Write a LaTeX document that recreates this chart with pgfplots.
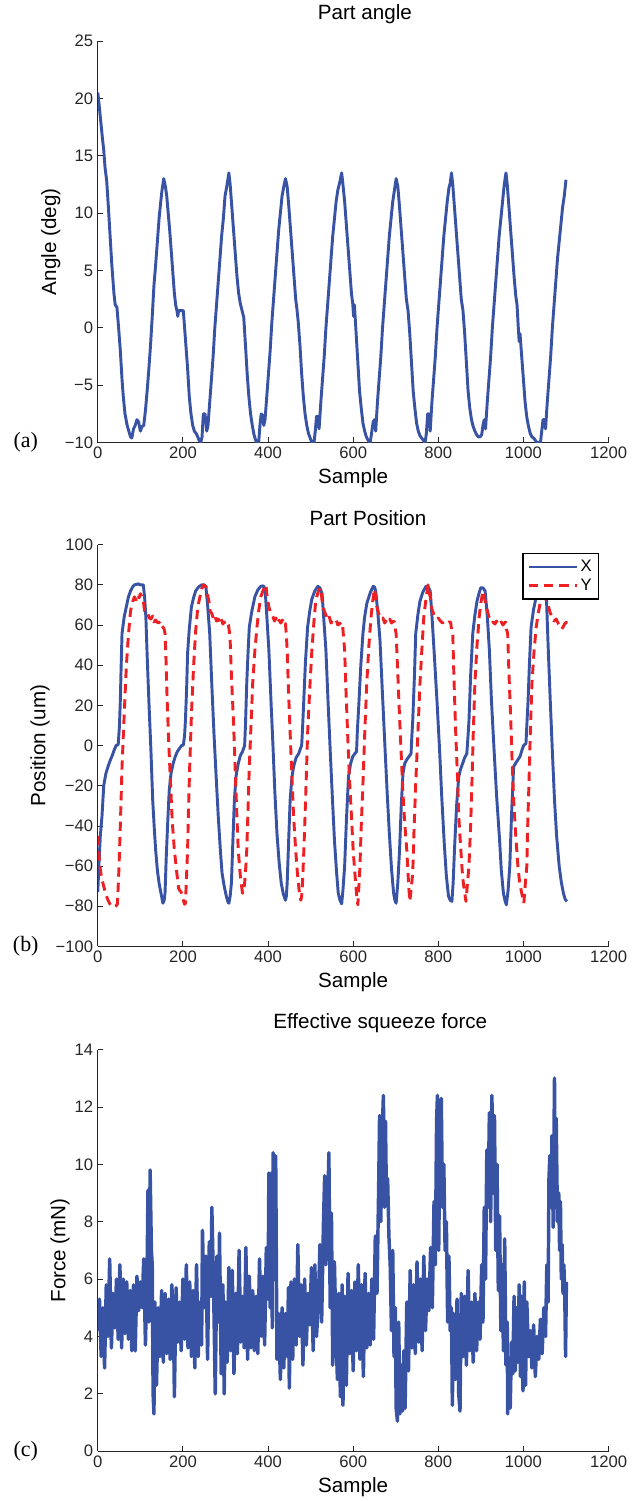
\documentclass[border=0pt]{standalone}
\usepackage{pgfplots}
\pgfplotsset{compat=1.18}
\usepackage{fontspec}
\setmainfont{Liberation Sans}
\newfontfamily\tnr{Liberation Serif}
\definecolor{mblue}{RGB}{56,83,164}
\definecolor{mred}{RGB}{237,32,36}
\pgfplotsset{
  panel/.style={
    width=384pt, height=302pt, scale only axis,
    axis lines=left, axis line style={-, line width=0.8pt, black!85},
    tick align=inside, major tick length=4pt, tick style={black!85, line width=0.6pt},
    xmin=0, xmax=1200, xtick={0,200,...,1200},
    xticklabels={0,200,400,600,800,1000,1200},
    tick label style={font=\fontsize{12.5}{14}\selectfont, black!85},
    label style={font=\fontsize{15.5}{17}\selectfont},
    title style={font=\fontsize{15.5}{17}\selectfont, anchor=center},
    xlabel={Sample},
    xlabel style={at={(axis description cs:0.5,-0.089)}, anchor=center},
    every axis plot/.append style={line join=round},
  },
}
\begin{document}
\begin{tikzpicture}
\path (-73.5pt,0pt) rectangle (405.75pt,-1125.75pt);

% (a) part angle
\begin{axis}[panel, at={(0pt,-331.5pt)}, anchor=south west,
  ymin=-10, ymax=25, ytick={-10,-5,0,5,10,15,20,25},
  yticklabels={−10,−5,0,5,10,15,20,25},
  ylabel={Angle (deg)},
  ylabel style={at={(axis description cs:-0.092,0.5)}, anchor=center},
  title={Part angle},
  title style={at={(axis description cs:0.523,1.047)}},
  extra description/.code={\node[font=\tnr\fontsize{16.5}{18}\selectfont] at (axis description cs:-0.141,0) {(a)};},
]
\addplot[mblue, line width=2.2pt] coordinates {
(0,20.5)(3,19.5)(7,18)(11,16.5)(14,15.5)(17,14)(21,12.8)(25,10.5)(29,8)(33,5.5)(38,3)(41,2)(45,1.8)(49,0)(53,-2)(57,-4.5)(60,-6)(64,-7.5)(69,-8.5)(73,-9)(77,-9.5)(80,-9.6)(84,-8.8)(88,-8.5)(92,-8)(96,-8.2)(100,-9)(104,-8.6)(108,-8.5)
(112,-7.2)(116,-5.5)(120,-3.6)(124,-1.5)(128,1)(132,3.7)(136,5.5)(140,7.5)(144,9.5)(148,11)(151,12)(155,13)
(159,12.3)(162,11.5)(165,10.2)(169,8.5)(173,6.5)(177,4.5)(180,3)(183,2)(186,1.5)(188,1)(190,1.5)(196,1.5)(201,1.5)(204,0)(207,-1.5)(211,-3.5)(215,-6)(219,-7.5)(223,-8.5)(227,-9)(231,-9.2)(235,-9.5)(238,-9.8)(242,-10)(245,-9.5)(248,-7.5)(252,-7.5)(256,-9)(259,-8.5)
(263,-6.5)(267,-4.5)(271,-2.5)(275,0)(279,2)(283,4)(287,6)(291,8)(295,9.5)(299,11.5)(303,12.3)(306,13)(308,13.5)
(311,12.5)(315,10.5)(319,8.5)(323,6.5)(327,4.5)(331,3)(335,2.1)(339,1.5)(343,0.9)(347,-1.5)(351,-4)(355,-6)(359,-7.5)(363,-8.5)(367,-9.3)(371,-9.8)(375,-10)(378,-10)(381,-8.5)(384,-7.5)(387,-7.6)(390,-8.5)(393,-8)
(397,-6)(401,-4)(405,-2)(409,0.5)(413,2.5)(417,4.5)(421,6.5)(425,8.5)(429,10)(433,11.5)(437,12.3)(441,13)
(445,12.3)(449,10.5)(453,8.5)(457,6.5)(461,4.5)(465,2.5)(468,1.6)(471,0.5)(475,-1.5)(479,-4)(483,-6)(487,-7.5)(491,-8.5)(495,-9.2)(499,-9.6)(503,-10)(508,-10)(511,-9)(514,-7.7)(517,-7.7)(520,-8.8)
(524,-6.5)(528,-4.5)(532,-2.5)(536,0)(540,2)(544,4)(548,6)(552,8)(556,9.5)(560,11)(564,12)(568,12.6)(573,13.5)
(576,12.5)(580,11)(584,9)(588,7)(592,5)(596,3)(599,2.1)(601,1)(603,2)(607,-0.5)(611,-3)(615,-5.5)(619,-7)(623,-8.3)(627,-9)(631,-9.5)(635,-9.8)(640,-10)(644,-9)(647,-8.2)(650,-8)(653,-9)
(657,-6.5)(661,-4.5)(665,-2.5)(669,0)(673,2)(677,4)(681,6)(685,8)(689,9.5)(693,11)(697,12)(701,13)
(705,12.3)(709,10.5)(713,8.5)(717,6.5)(721,4.5)(725,2.5)(729,1.5)(733,-0.5)(737,-3)(741,-5.5)(745,-7)(749,-8.3)(753,-9)(757,-9.4)(761,-9.6)(765,-9.8)(769,-10)(772,-9.2)(775,-7.5)(778,-7.5)(781,-9)
(785,-6.5)(789,-4.5)(793,-2.5)(797,0)(801,2)(805,4)(809,6)(813,8)(817,9.5)(821,11)(825,12.2)(828,12.6)(831,13.5)
(834,12.5)(838,10.5)(842,8.5)(846,6.5)(850,4.5)(854,2.5)(858,1.5)(862,-0.5)(866,-3)(870,-5.5)(874,-7)(878,-8)(882,-8.6)(886,-9)(890,-9.3)(894,-9.5)(898,-9.5)(902,-9.3)(905,-8.5)(908,-8)(911,-8.8)
(915,-6.5)(919,-4.5)(923,-2.5)(927,0)(931,2)(935,4)(939,6)(943,8)(947,9.5)(951,11)(955,12.5)(959,13.5)
(962,12.5)(966,10.5)(970,8.5)(974,6.5)(978,4.5)(982,2.8)(985,2)(988,0)(990,-1.2)(992,-0.5)(996,-2.5)(1000,-4.5)(1004,-6.5)(1008,-7.8)(1012,-8.6)(1016,-9.2)(1020,-9.5)(1024,-9.6)(1028,-9.8)(1032,-10)(1036,-10)(1040,-10)(1043,-9)(1046,-8)(1049,-8)(1052,-8.8)
(1056,-6.5)(1060,-4.5)(1064,-2.5)(1068,0)(1072,2)(1076,4)(1080,6)(1084,7.5)(1088,9)(1092,10.5)(1096,11.5)(1100,12.9)
};
\end{axis}

% (b) part position
\begin{axis}[panel, at={(0pt,-710.25pt)}, anchor=south west,
  ymin=-100, ymax=100, ytick={-100,-80,...,100},
  yticklabels={−100,−80,−60,−40,−20,0,20,40,60,80,100},
  ylabel={Position (um)},
  ylabel style={at={(axis description cs:-0.113,0.5)}, anchor=center},
  title={Part Position},
  title style={at={(axis description cs:0.529,1.047)}},
  extra description/.code={\node[font=\tnr\fontsize{16.5}{18}\selectfont] at (axis description cs:-0.141,0) {(b)};},
  legend image code/.code={\draw (0pt,0pt) -- (36pt,0pt);},
  legend style={at={(axis description cs:0.982,0.98)}, anchor=north east,
    draw=black, line width=1.3pt, font=\fontsize{12.5}{14}\selectfont,
    inner xsep=3pt, inner ysep=3pt, row sep=0pt},
  legend cell align=left,
]
\addplot[mblue, line width=2.2pt] coordinates {
(0,-73)(3,-58)(6,-45)(10,-35)(14,-20)(19,-14)(24,-10.5)(29,-7.5)(34,-5)(39,-2)(43,0)(48,0.5)(51,10)(53,22.6)(55,40)(57,55.8)(62,64)(67,69)(72,74)(77,77)(82,79)(86,80)(95,80.5)(100,80)(107,80)(110,74)(113,64)(116,45)(120,22.6)(125,-3)(129,-27)(133,-42)(136,-52)(140,-62)(144,-68.5)(149,-74)(153,-78.5)(156,-77)(158,-73.5)(161,-55)(165,-35)(168,-22)(172,-14)(177,-9)(182,-5.5)(187,-3)(192,-1.4)(197,0)(201,0.2)(204,5)(206,12.7)(209,30)(211,46)(215,58)(220,69)(225,73.5)(230,77)(237,79)(244,80)(250,80)(254,79)(258,70)(263,55.8)(268,30)(273,6)(278,-15)(283,-35)(288,-52)(292,-63.5)(297,-70)(302,-75)(306,-78)(308,-78.5)(311,-75)(314,-68.5)(317,-50)(321,-27)(325,-15)(330,-9)(335,-5)(340,-3)(345,0)(347,10)(350,31)(353,46)(356,59)(362,67)(369,74)(376,77.5)(383,79.3)(389,79.5)(393,78)(397,65)(402,47.5)(407,22)(412,-2)(416,-23)(421,-43.7)(426,-58)(431,-68.5)(436,-74)(441,-77)(443,-75)(445,-68.5)(448,-50)(452,-27)(456,-16)(460,-10.5)(466,-6)(472,-4)(477,-1)(479,0)(481,8)(484,22.6)(488,42)(493,59)(498,67)(503,73)(510,77)(517,79.3)(522,78.5)(527,75.6)(531,63)(536,47.5)(541,22)(546,-2)(551,-25)(556,-47)(561,-63)(565,-73.5)(569,-77)(573,-78.8)(576,-72)(580,-60)(584,-38)(589,-15.5)(594,-9)(599,-5.5)(604,-4)(608,-3)(610,8)(613,19)(618,40)(623,55.8)(627,64)(632,70.7)(640,76)(647,79.3)(650,79)(653,77)(658,66)(663,52.5)(669,25)(675,-2)(680,-24)(685,-43.7)(690,-61)(695,-73.5)(698,-77)(701,-78.5)(705,-68)(709,-52)(713,-30)(717,-14)(721,-9)(726,-7)(731,-5.5)(736,-4)(738,5)(740,12.7)(744,35)(747,55.8)(752,65)(757,72)(764,76.5)(771,79.3)(776,79)(781,77)(785,65)(790,47.5)(797,22)(803,-2)(808,-25)(814,-48.6)(819,-65)(824,-75)(828,-77)(832,-77.6)(835,-68)(838,-52)(843,-30)(848,-15.5)(852,-12)(857,-9)(862,-6)(867,-4)(869,2)(872,12)(876,35)(881,55.8)(886,65)(891,72)(896,76)(900,78.6)(905,78.5)(910,77)(915,65)(920,47.5)(925,22)(931,-2)(937,-25)(944,-47)(948,-62)(953,-73.5)(957,-77.5)(960,-79.3)(964,-72)(968,-60)(972,-35)(977,-10.5)(984,-8)(992,-5.5)(997,-2)(1001,0.2)(1006,1)(1008,10)(1011,22.6)(1014,40)(1018,59)(1024,68)(1030,74)(1037,77)(1044,78.6)(1049,77.5)(1054,74)(1058,50)(1063,22.6)(1068,-3)(1073,-27)(1078,-45)(1084,-60)(1089,-68)(1094,-73.5)(1098,-76.5)(1102,-77.6)
};
\addplot[mred, line width=2.2pt, dash pattern=on 7pt off 4.5pt] coordinates {
(0,-45)(3,-55)(5,-60)(9,-66)(14,-70)(19,-74)(24,-77)(29,-79)(33,-80)(38,-80.5)(42,-80)(46,-79)(48,-70)(50,-60)(53,-40)(57,-10.5)(62,15)(67,39)(72,55)(77,67)(81,71)(86,74)(90,72.5)(94,75)(97,73.5)(100,75.6)(104,74)(107,72)(110,67)(113,65.7)(117,66)(121,63.5)(125,63)(129,64.5)(132,61.5)(136,62.5)(139,61.5)(143,61)(147,62)(150,60)(153,59)(156,58)(158,55.8)(160,45)(163,22.6)(167,0)(171,-19)(175,-38)(180,-52)(186,-64)(190,-71)(192,-72)(196,-73)(201,-77)(204,-79)(206,-78.5)(208,-68)(211,-52)(213,-33)(216,-10.5)(220,15)(225,39)(230,57)(235,69)(240,74)(244,78)(249,80)(254,79.3)(257,76)(261,72)(264,67)(268,65.7)(272,63)(275,64.5)(279,62)(283,63)(287,61)(290,63)(294,60.5)(297,61.5)(301,60)(304,61)(307,60)(309,57)(311,52.5)(314,35)(318,16)(321,0)(324,-19)(327,-36)(330,-52)(335,-65)(340,-73.5)(343,-72)(345,-68.5)(348,-60)(350,-52)(353,-32)(356,-10.5)(360,10)(364,31)(369,47)(374,59)(378,67)(383,74)(388,77)(392,79)(395,80)(398,74)(402,69)(406,66)(409,65)(412,64)(415,62)(419,63.5)(422,61)(426,62.4)(430,61)(434,62.5)(437,60)(441,60.7)(443,55)(445,47.5)(448,28)(452,6)(456,-15)(460,-35)(465,-52)(469,-63.5)(473,-72)(477,-77)(479,-75)(481,-68.5)(484,-53)(487,-35)(490,-15)(493,6)(498,28)(503,47.5)(508,62)(512,72)(517,76)(522,78.6)(525,76)(527,72)(532,67)(536,65)(540,62.5)(544,64)(548,61)(551,61.5)(556,61)(560,62.5)(564,60)(568,61)(572,60)(575,60.7)(577,55)(580,47.5)(583,28)(587,6)(591,-15)(596,-35)(600,-52)(604,-63.5)(608,-74)(611,-79.3)(613,-72)(616,-60)(619,-40)(623,-19)(627,5)(632,31)(637,50)(642,64)(646,72)(650,78)(653,74)(656,69)(661,65)(666,63)(670,63.5)(674,61)(678,62.5)(682,61.5)(686,63)(690,61)(694,62)(697,61.5)(699,58)(701,55.8)(705,35)(709,14.3)(713,-5)(717,-24)(721,-38)(726,-52)(730,-68)(733,-77.6)(736,-72)(740,-63.5)(743,-42)(747,-19)(752,6)(757,31)(762,50)(766,64)(771,73)(776,80)(778,77)(781,74)(785,68)(790,65)(795,63)(800,63.5)(805,62)(810,61)(815,62)(820,61)(825,61.5)(829,61.5)(831,58)(834,55.8)(837,32)(841,6)(845,-15)(848,-35)(853,-52)(857,-65)(861,-72)(865,-77.6)(868,-70)(872,-60)(876,-40)(879,-19)(882,5)(886,31)(891,50)(896,64)(900,71)(905,77)(910,72)(915,67.4)(919,64)(922,63)(926,61)(929,61.5)(933,60.5)(937,62)(941,60)(944,60.7)(948,61.5)(952,60)(955,61)(958,61.5)(960,58)(963,55.8)(966,36)(970,14.3)(973,-5)(977,-27)(982,-45)(987,-60)(991,-68)(996,-73.5)(1001,-78.5)(1004,-70)(1008,-60)(1010,-40)(1013,-19)(1016,5)(1020,31)(1025,47)(1030,59)(1035,66)(1039,70.7)(1044,73)(1049,74.8)(1054,72)(1059,69)(1063,66)(1068,64)(1072,62)(1077,63)(1082,60.7)(1086,59.5)(1090,58)(1093,59)(1097,60.7)(1100,61)(1102,63)
};
\legend{X,Y}
\end{axis}

% (c) effective squeeze force
\begin{axis}[panel, at={(0pt,-1089.75pt)}, anchor=south west,
  ymin=0, ymax=14, ytick={0,2,...,14},
  yticklabels={0,2,4,6,8,10,12,14},
  ylabel={Force (mN)},
  ylabel style={at={(axis description cs:-0.074,0.5)}, anchor=center},
  title={Effective squeeze force},
  title style={at={(axis description cs:0.553,1.046)}},
  extra description/.code={\node[font=\tnr\fontsize{16.5}{18}\selectfont] at (axis description cs:-0.141,0) {(c)};},
]
\addplot[mblue, line width=2.6pt] coordinates {
(0,4.2)(4,5.3)(8,3.3)(12,5.0)(16,2.9)(20,5.8)(24,4.0)(28,6.7)(32,3.6)(36,5.5)(40,4.3)(44,6.0)(48,3.9)(52,6.5)(56,3.6)(60,6.0)(64,4.1)(68,5.9)(72,3.9)(76,5.6)(80,3.5)(84,5.8)(88,3.5)(92,6.1)(96,4.9)(100,5.9)(104,5.0)(108,6.7)(112,3.7)(116,6.5)(118,9.1)(120,4.5)(123,9.8)(126,7.0)(128,6.5)(130,2.0)(132,1.3)(134,5.2)(138,2.3)(142,5.0)(146,3.3)(150,5.6)(154,3.1)(158,5.5)(162,3.4)(166,5.3)(170,3.2)(174,5.8)(178,4.4)(180,1.9)(184,5.7)(188,3.8)(192,5.2)(196,3.5)(200,6.0)(204,3.9)(208,6.5)(212,3.6)(216,5.9)(220,3.3)(224,5.6)(228,2.9)(232,6.5)(236,3.3)(240,5.2)(244,3.7)(246,7.7)(250,5.0)(254,6.8)(258,3.2)(262,7.3)(266,5.4)(268,8.5)(272,5.8)(276,2.0)(280,6.8)(284,4.5)(286,7.6)(290,2.7)(294,5.8)(297,2.0)(300,5.2)(304,3.1)(308,6.4)(312,3.5)(316,6.3)(320,2.7)(324,5.5)(328,3.4)(332,7.0)(336,3.8)(340,5.4)(344,3.6)(348,7.1)(352,3.2)(356,6.1)(360,3.6)(364,5.6)(368,3.5)(372,5.4)(376,3.4)(380,6.7)(384,4.0)(388,6.1)(392,3.7)(396,7.1)(400,5.3)(402,9.7)(405,5.0)(408,9.7)(410,4.3)(412,10.4)(415,6.0)(418,10.3)(421,3.2)(425,4.8)(429,2.5)(433,5.0)(437,2.9)(441,4.8)(445,3.3)(448,5.7)(450,2.2)(454,5.9)(458,3.2)(462,6.0)(466,3.7)(470,7.2)(474,4.0)(478,5.8)(482,3.0)(486,6.0)(490,3.7)(494,5.5)(498,4.4)(502,6.4)(506,3.5)(510,6.5)(514,4.0)(518,5.1)(522,7.2)(526,4.5)(530,7.8)(533,9.6)(536,6.5)(540,8.5)(543,10.4)(546,5.0)(549,8.3)(552,3.0)(556,6.6)(560,3.9)(563,2.5)(566,5.5)(570,1.9)(574,5.8)(576,1.6)(580,5.4)(584,2.3)(588,6.2)(592,3.4)(596,5.6)(600,2.8)(604,5.9)(608,3.5)(612,6.5)(616,3.2)(620,5.8)(624,2.6)(628,6.2)(632,3.6)(636,5.5)(640,3.7)(644,6.0)(648,3.9)(652,7.5)(656,5.5)(660,9.3)(662,11.7)(665,8.0)(668,11.0)(671,12.4)(674,8.5)(676,11.5)(678,9.0)(681,9.5)(684,7.5)(687,6.5)(690,4.2)(693,7.0)(696,3.3)(699,5.0)(701,1.5)(704,1.05)(707,4.5)(710,1.3)(713,3.0)(716,1.4)(719,3.5)(722,1.5)(726,5.2)(730,2.8)(734,6.3)(738,3.6)(742,5.8)(746,3.4)(750,6.6)(754,3.8)(758,6.0)(762,3.5)(766,6.8)(770,4.2)(774,6.0)(778,4.9)(782,7.1)(786,5.0)(790,8.7)(793,6.5)(796,11.5)(798,12.4)(801,7.0)(804,11.5)(807,12.3)(810,8.5)(813,10.0)(816,7.0)(819,8.0)(822,4.5)(825,6.8)(828,4.2)(831,5.0)(833,1.6)(836,4.8)(840,2.5)(844,5.3)(848,2.0)(851,1.4)(854,5.5)(858,3.3)(862,5.4)(866,3.0)(870,6.3)(874,3.5)(878,5.2)(882,3.1)(886,5.5)(890,3.5)(894,5.2)(898,3.9)(902,6.5)(905,4.5)(908,8.5)(911,6.0)(914,10.5)(917,8.5)(920,11.8)(923,8.0)(926,12.4)(929,9.0)(932,11.7)(935,7.0)(938,10.0)(941,5.6)(944,8.2)(947,4.2)(950,6.5)(953,3.5)(956,7.4)(959,3.0)(962,4.5)(963,1.3)(966,3.0)(969,1.5)(972,3.8)(975,2.7)(978,5.4)(981,2.8)(984,5.0)(987,3.1)(990,5.8)(993,2.6)(996,5.4)(999,2.1)(1002,5.9)(1005,2.3)(1008,5.2)(1012,3.3)(1016,4.2)(1020,2.9)(1024,4.4)(1028,2.6)(1032,4.0)(1036,3.2)(1040,4.6)(1044,3.4)(1048,5.0)(1052,4.0)(1055,6.5)(1058,5.2)(1060,9.5)(1062,10.3)(1065,8.5)(1067,11.0)(1070,7.8)(1073,13.0)(1075,8.5)(1077,11.6)(1080,8.0)(1083,9.0)(1085,7.0)(1087,8.7)(1089,6.0)(1091,7.2)(1093,5.5)(1095,6.5)(1097,5.6)(1099,3.3)(1101,5.9)
};
\end{axis}
\end{tikzpicture}
\end{document}
